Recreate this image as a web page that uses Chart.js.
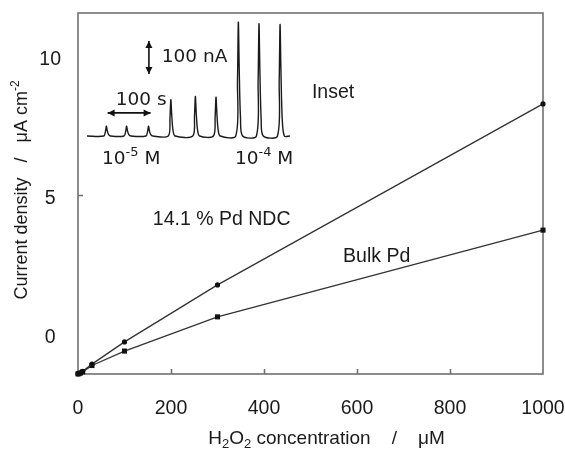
<!DOCTYPE html>
<html>
<head>
<meta charset="utf-8">
<script src="https://cdn.jsdelivr.net/npm/chart.js@4.4.0/dist/chart.umd.min.js"></script>
<style>
html, body { margin: 0; padding: 0; background: #fff; }
</style>
</head>
<body>
<canvas id="chart" width="565" height="450"></canvas>
<script>
'use strict';

// calibration data (uM vs uA cm-2)
var concentration = [0, 2, 5, 10, 30, 100, 300, 1000];
var ndcCurrent = [-1.29, -1.28, -1.25, -1.2, -0.94, -0.14, 1.91, 8.42];
var bulkCurrent = [-1.29, -1.28, -1.26, -1.22, -0.99, -0.47, 0.76, 3.88];

var xTicks = [0, 200, 400, 600, 800, 1000];
var yTicks = [0, 5, 10];
var xTickMarks = [200, 400, 600, 800];
var yTickMarks = [5];

// inset amperogram (s vs nA above baseline)
var insetTime = [0,
    39, 43, 45, 47, 50, 55,
    86, 90, 92, 94, 97, 102,
    137, 141, 143, 145, 148, 153,
    189, 193, 195, 197, 200, 205,
    246, 250, 252, 254, 257, 262,
    294, 298, 300, 302, 305, 310,
    346, 350, 352, 354, 357, 362,
    394, 398, 400, 402, 405, 410,
    443, 447, 449, 451, 454, 459,
    472];
var insetCurrent = [0,
    0, 14, 30, 17, 5, 0,
    0, 14, 30, 17, 5, 0,
    0, 14, 30, 17, 5, 0,
    0, 55, 110, 66, 18, 0,
    0, 60, 120, 72, 20, 0,
    0, 59, 118, 71, 19, 0,
    0, 170, 345, 205, 55, 0,
    0, 170, 340, 204, 54, 0,
    0, 168, 338, 202, 54, 0,
    0];

var fontFamily = '"Liberation Sans", Arial, sans-serif';
var insetFamily = '"DejaVu Sans", Verdana, sans-serif';
var textColor = '#1a1a1a';

var toPoints = function (xs, ys) {
    return xs.map(function (x, i) {
        return { x: x, y: ys[i] };
    });
};

// text with sub / superscript pieces
var drawRich = function (ctx, parts, x, y, align, size, family) {
    var small = Math.round(size * 0.68);
    var fontFor = function (p) {
        return ((p.sup || p.sub) ? small : size) + 'px ' + (family || fontFamily);
    };
    var widths = parts.map(function (p) {
        ctx.font = fontFor(p);
        return ctx.measureText(p.t).width;
    });
    var total = widths.reduce(function (a, b) { return a + b; }, 0);
    var cx = align === 'center' ? x - total / 2 : x;
    ctx.textAlign = 'left';
    ctx.textBaseline = 'middle';
    ctx.fillStyle = textColor;
    parts.forEach(function (p, i) {
        ctx.font = fontFor(p);
        var dy = p.sup ? -size * 0.33 : (p.sub ? size * 0.3 : 0);
        ctx.fillText(p.t, cx, y + dy);
        cx += widths[i];
    });
};

var arrow = function (ctx, x1, y1, x2, y2) {
    var head = 7, half = 3.5;
    var ang = Math.atan2(y2 - y1, x2 - x1);
    ctx.beginPath();
    ctx.moveTo(x1, y1);
    ctx.lineTo(x2, y2);
    ctx.stroke();
    [[x2, y2, ang], [x1, y1, ang + Math.PI]].forEach(function (h) {
        ctx.save();
        ctx.translate(h[0], h[1]);
        ctx.rotate(h[2]);
        ctx.beginPath();
        ctx.moveTo(0, 0);
        ctx.lineTo(-head, -half);
        ctx.lineTo(-head, half);
        ctx.closePath();
        ctx.fill();
        ctx.restore();
    });
};

var decor = {
    id: 'decor',
    beforeDatasetsDraw: function (chart) {
        var ctx = chart.ctx;
        var area = chart.chartArea;
        var sx = chart.scales.x, sy = chart.scales.y;

        ctx.save();
        // frame
        ctx.strokeStyle = '#707070';
        ctx.lineWidth = 1.6;
        ctx.strokeRect(area.left, area.top, area.right - area.left, area.bottom - area.top);

        // inward tick marks
        ctx.beginPath();
        xTickMarks.forEach(function (v) {
            var px = Math.round(sx.getPixelForValue(v)) + 0.5;
            ctx.moveTo(px, area.bottom);
            ctx.lineTo(px, area.bottom - 5);
        });
        yTickMarks.forEach(function (v) {
            var py = Math.round(sy.getPixelForValue(v)) - 3.5;
            ctx.moveTo(area.left, py);
            ctx.lineTo(area.left + 5, py);
        });
        ctx.stroke();
        ctx.restore();
    },
    afterDatasetsDraw: function (chart) {
        var ctx = chart.ctx;
        var area = chart.chartArea;
        var sx = chart.scales.x, sy = chart.scales.y;
        var ix = chart.scales.xi, iy = chart.scales.yi;

        ctx.save();
        // inset scale bars
        ctx.strokeStyle = '#111';
        ctx.fillStyle = '#111';
        ctx.lineWidth = 1.6;
        arrow(ctx, ix.getPixelForValue(48), iy.getPixelForValue(70),
            ix.getPixelForValue(148), iy.getPixelForValue(70));
        arrow(ctx, ix.getPixelForValue(144), iy.getPixelForValue(288),
            ix.getPixelForValue(144), iy.getPixelForValue(188));

        drawRich(ctx, [{ t: '100 nA' }], ix.getPixelForValue(174), iy.getPixelForValue(239), 'left', 18.5, insetFamily);
        drawRich(ctx, [{ t: '100 s' }], ix.getPixelForValue(67), iy.getPixelForValue(109), 'left', 18.5, insetFamily);
        drawRich(ctx, [{ t: '10' }, { t: '-5', sup: true }, { t: ' M' }],
            ix.getPixelForValue(35), iy.getPixelForValue(-70), 'left', 18.5, insetFamily);
        drawRich(ctx, [{ t: '10' }, { t: '-4', sup: true }, { t: ' M' }],
            ix.getPixelForValue(344), iy.getPixelForValue(-70), 'left', 18.5, insetFamily);

        // curve labels
        drawRich(ctx, [{ t: 'Inset' }], sx.getPixelForValue(503), sy.getPixelForValue(8.81), 'left', 19.5);
        drawRich(ctx, [{ t: '14.1 % Pd NDC' }], sx.getPixelForValue(161), sy.getPixelForValue(4.24), 'left', 19.5);
        drawRich(ctx, [{ t: 'Bulk Pd' }], sx.getPixelForValue(570), sy.getPixelForValue(2.91), 'left', 19.5);

        // axis titles
        drawRich(ctx, [{ t: 'H' }, { t: '2', sub: true }, { t: 'O' }, { t: '2', sub: true },
            { t: ' concentration    /    \u03bcM' }], (area.left + area.right) / 2 + 16, 439, 'center', 19);

        ctx.translate(22, 190);
        ctx.rotate(-Math.PI / 2);
        drawRich(ctx, [{ t: 'Current density   /   \u03bcA cm' }, { t: '-2', sup: true }], 0, 0, 'center', 18);
        ctx.restore();
    }
};

var chart = new Chart(document.getElementById('chart').getContext('2d'), {
    type: 'line',
    data: {
        datasets: [
            {
                label: '14.1 % Pd NDC',
                data: toPoints(concentration, ndcCurrent),
                xAxisID: 'x',
                yAxisID: 'y',
                borderColor: '#333',
                borderWidth: 1.3,
                pointStyle: 'circle',
                pointRadius: 2.6,
                pointBackgroundColor: '#111',
                pointBorderWidth: 0,
                tension: 0,
                clip: false
            },
            {
                label: 'Bulk Pd',
                data: toPoints(concentration, bulkCurrent),
                xAxisID: 'x',
                yAxisID: 'y',
                borderColor: '#333',
                borderWidth: 1.3,
                pointStyle: 'rect',
                pointRadius: 3.6,
                pointBackgroundColor: '#111',
                pointBorderWidth: 0,
                tension: 0,
                clip: false
            },
            {
                label: 'Inset',
                data: toPoints(insetTime, insetCurrent),
                xAxisID: 'xi',
                yAxisID: 'yi',
                borderColor: '#1a1a1a',
                borderWidth: 1.4,
                pointRadius: 0,
                tension: 0.3
            }
        ]
    },
    options: {
        responsive: false,
        animation: false,
        devicePixelRatio: 1,
        layout: { padding: { left: 0, right: 22, top: 13, bottom: 0 } },
        plugins: {
            legend: { display: false },
            tooltip: { enabled: false }
        },
        scales: {
            x: {
                type: 'linear',
                min: 0,
                max: 1000,
                grid: { display: false, drawTicks: false },
                border: { display: false },
                afterBuildTicks: function (scale) {
                    scale.ticks = xTicks.map(function (v) { return { value: v }; });
                },
                afterFit: function (scale) {
                    scale.height = 76;
                    scale.paddingLeft = 0;
                    scale.paddingRight = 0;
                },
                ticks: {
                    padding: 23,
                    maxRotation: 0,
                    autoSkip: false,
                    color: textColor,
                    font: { family: fontFamily, size: 19.5 },
                    callback: function (v) { return String(v); }
                }
            },
            y: {
                type: 'linear',
                min: -1.295,
                max: 11.69,
                grid: { display: false, drawTicks: false },
                border: { display: false },
                afterBuildTicks: function (scale) {
                    scale.ticks = yTicks.map(function (v) { return { value: v }; });
                },
                afterFit: function (scale) {
                    scale.width = 78;
                    scale.paddingTop = 0;
                    scale.paddingBottom = 0;
                },
                ticks: {
                    padding: 17,
                    crossAlign: 'center',
                    color: textColor,
                    font: { family: fontFamily, size: 19.5 },
                    callback: function (v) { return String(v); }
                }
            },
            xi: { type: 'linear', axis: 'x', display: false, min: -20.9, max: 1060.5 },
            yi: { type: 'linear', axis: 'y', display: false, min: -721, max: 372.7 }
        }
    },
    plugins: [decor]
});
</script>
</body>
</html>
